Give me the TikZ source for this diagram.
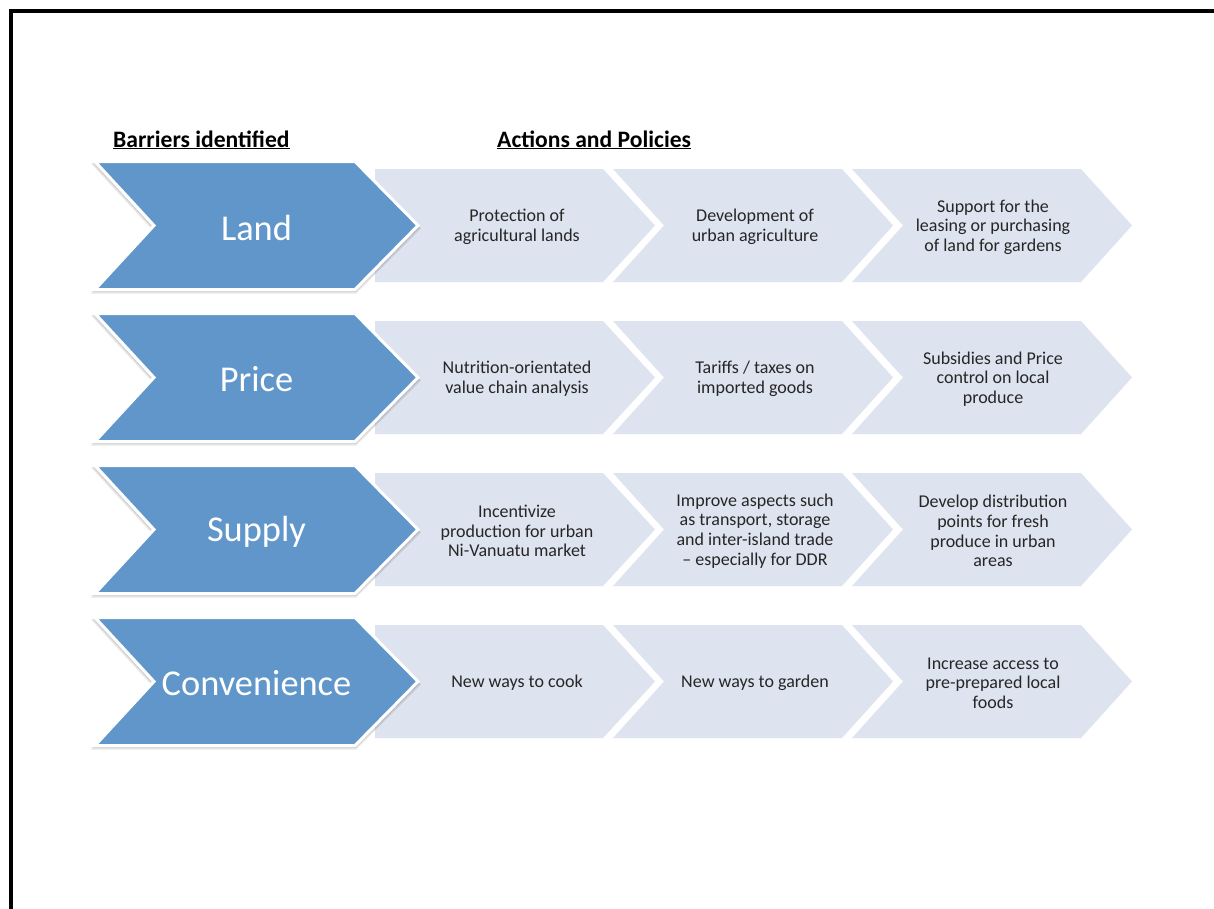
\documentclass[tikz,border=0pt]{standalone}
\usepackage{fontspec}
\setmainfont{Carlito}
\definecolor{bluechev}{HTML}{6096C9}
\definecolor{lightchev}{HTML}{DDE3EF}
\definecolor{txtgrey}{HTML}{262626}
\begin{document}
\begin{tikzpicture}[x=1pt,y=-1pt,
  smalltxt/.style={font=\fontsize{18}{19.7}\selectfont, text=txtgrey, align=center, inner sep=0pt, yshift=-1.5pt},
  bigtxt/.style={font=\fontsize{36.4}{40}\selectfont, text=white, inner sep=0pt, yshift=-2pt},
  headtxt/.style={font=\fontsize{23.6}{26}\selectfont\bfseries, text=black, anchor=base west, inner sep=0pt},
  lightfill/.style={fill=lightchev},
  bluefill/.style={fill=bluechev, draw=white, line width=3pt, line join=miter},
  shadowfill/.style={fill=black, opacity=0.09}]
\useasboundingbox (0,0) rectangle (1214,908);
\fill[white] (0,0) rectangle (1214,908);
\draw[line width=4pt] (10.5,930) -- (10.5,10.5) -- (1240,10.5);

\node[headtxt] (h1) at (113,147) {\underline{Barriers identified}};
\node[headtxt] (h2) at (497,147) {\underline{Actions and Policies}};

\foreach \cy in {225.5,377.5,529.5,681.5}{
  % first light chevron (no notch visible)
  \fill[lightfill] (375,\cy-56.5) -- (603,\cy-56.5) -- (655,\cy) -- (603,\cy+56.5) -- (375,\cy+56.5) -- cycle;
  \foreach \L in {613,852}{
    \fill[lightfill] (\L,\cy-56.5) -- (\L+229,\cy-56.5) -- (\L+280,\cy) -- (\L+229,\cy+56.5) -- (\L,\cy+56.5) -- (\L+51,\cy) -- cycle;
  }
  % soft shadow of the blue chevron
  \fill[shadowfill] (91,\cy-62) -- (356,\cy-62) -- (421,\cy+3) -- (356,\cy+68) -- (91,\cy+68) -- (151,\cy+3) -- cycle;
  \fill[shadowfill] (92,\cy-63) -- (356,\cy-63) -- (420,\cy+2) -- (356,\cy+66.5) -- (92,\cy+66.5) -- (152,\cy+2) -- cycle;
  % blue chevron
  \filldraw[bluefill] (95,\cy-64) -- (355,\cy-64) -- (418,\cy) -- (355,\cy+64) -- (95,\cy+64) -- (154,\cy) -- cycle;
}

% Row 1
\node[bigtxt] (b1) at (256.5,225.5) {Land};
\node[smalltxt] (a11) at (517,225.5) {Protection of\\agricultural lands};
\node[smalltxt] (a12) at (755,225.5) {Development of\\urban agriculture};
\node[smalltxt] (a13) at (993,225.5) {Support for the\\leasing or purchasing\\of land for gardens};
% Row 2
\node[bigtxt] (b2) at (256.5,377.5) {Price};
\node[smalltxt] (a21) at (517,377.5) {Nutrition-orientated\\value chain analysis};
\node[smalltxt] (a22) at (755,377.5) {Tariffs / taxes on\\imported goods};
\node[smalltxt] (a23) at (993,377.5) {Subsidies and Price\\control on local\\produce};
% Row 3
\node[bigtxt] (b3) at (256.5,529.5) {Supply};
\node[smalltxt] (a31) at (517,529.5) {Incentivize\\production for urban\\Ni-Vanuatu market};
\node[smalltxt] (a32) at (755,529.5) {Improve aspects such\\as transport, storage\\and inter-island trade\\– especially for DDR};
\node[smalltxt] (a33) at (993,529.5) {Develop distribution\\points for fresh\\produce in urban\\areas};
% Row 4
\node[bigtxt] (b4) at (256.5,681.5) {Convenience};
\node[smalltxt] (a41) at (517,681.5) {New ways to cook};
\node[smalltxt] (a42) at (755,681.5) {New ways to garden};
\node[smalltxt] (a43) at (993,681.5) {Increase access to\\pre-prepared local\\foods};
\end{tikzpicture}
\end{document}
